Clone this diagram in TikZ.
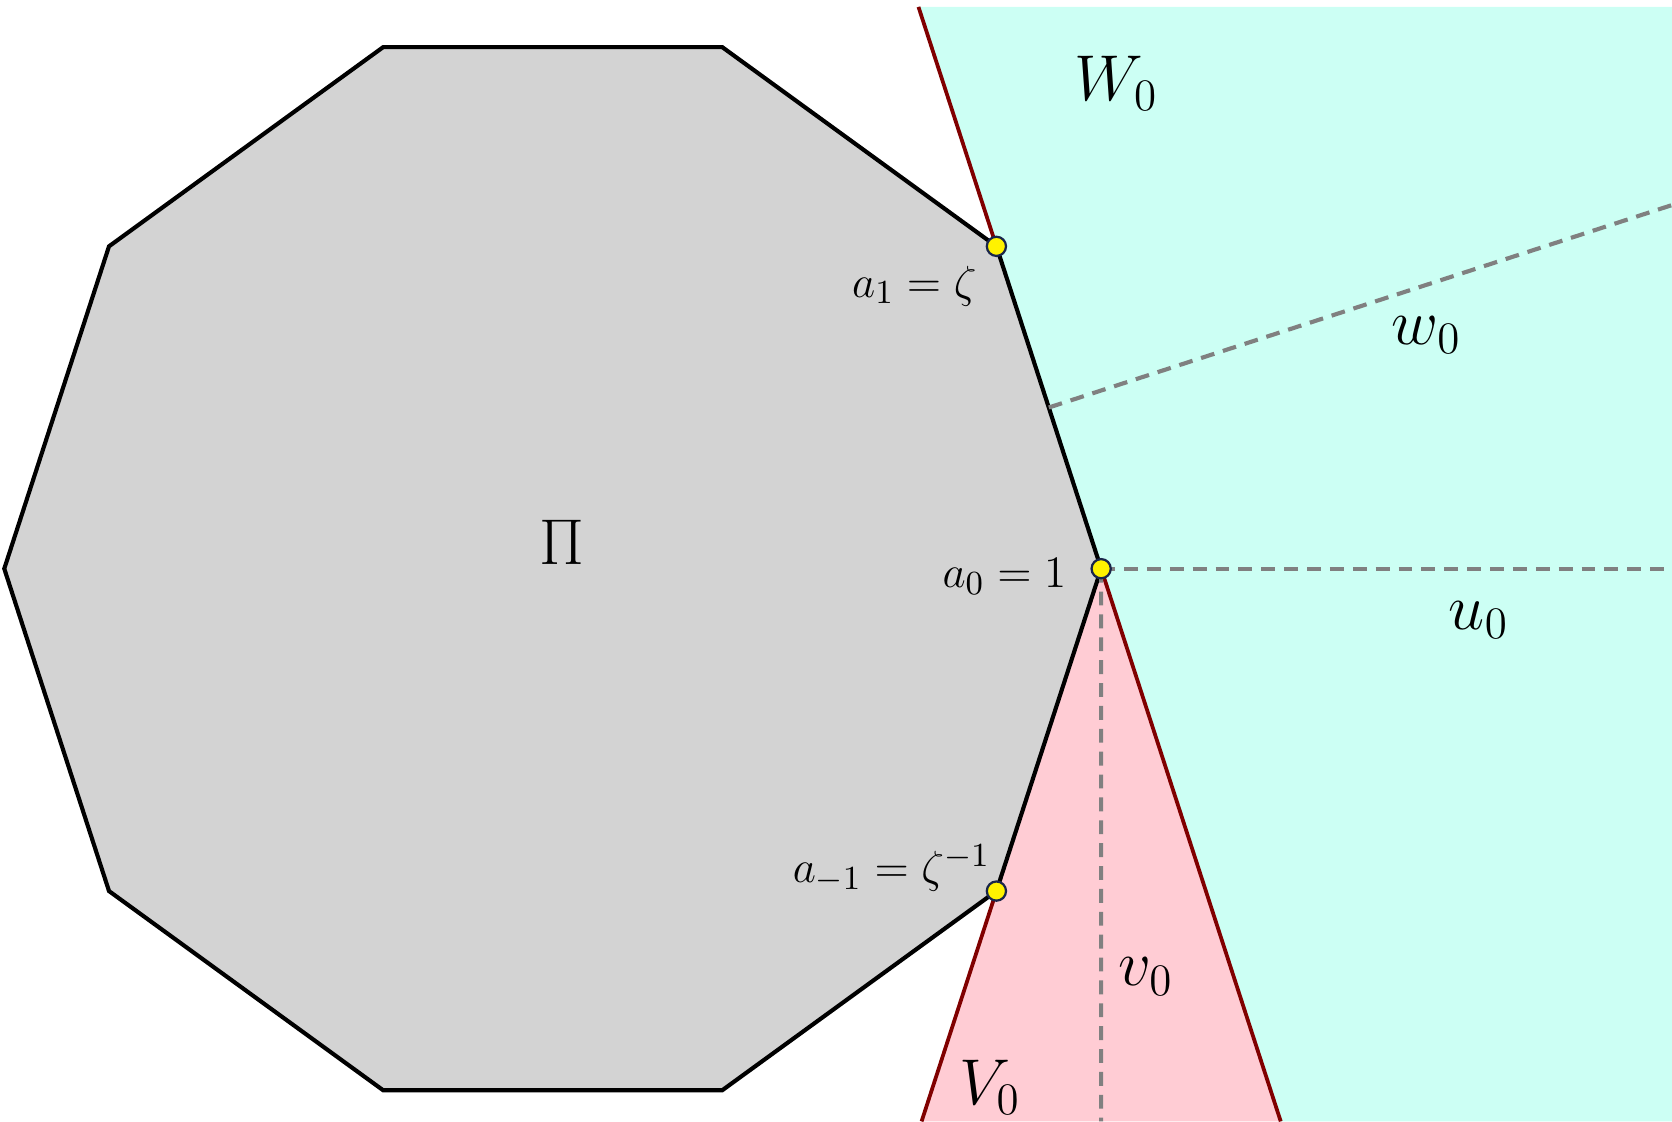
\documentclass[tikz,border=0pt]{standalone}
\usetikzlibrary{positioning, calc}

\definecolor{wedgecyan}{RGB}{204,255,244}
\definecolor{wedgepink}{RGB}{255,204,212}
\definecolor{polygray}{RGB}{211,211,211}
\definecolor{bordred}{RGB}{128,0,0}
\definecolor{dotnavy}{RGB}{26,38,74}

\begin{document}
\begin{tikzpicture}[node distance=10pt,
    polygon/.style={draw=black, line width=1.1pt, fill=polygray, line join=miter},
    border/.style={draw=bordred, line width=1pt},
    axis/.style={draw=black!50, line width=1.1pt, dash pattern=on 3.7pt off 2.4pt},
    point/.style={circle, draw=dotnavy, line width=0.6pt, fill=yellow, inner sep=0pt, minimum size=0.18cm},
    big label/.style={inner sep=0pt, font=\fontsize{18}{20}\selectfont},
    small label/.style={inner sep=0pt, font=\fontsize{13}{15}\selectfont}]
    \useasboundingbox (0,0) rectangle (15.67,10.51);

    \foreach \k in {0,...,9}
        \coordinate (Vertex \k) at ({5.18+5.14*cos(36*\k)}, {5.18+5.14*sin(36*\k)});
    \coordinate (Top End)    at (8.608,10.445);
    \coordinate (Top Right)  at (15.67,10.445);
    \coordinate (Low Right)  at (15.67,0);
    \coordinate (Low End)    at (12.003,0);
    \coordinate (Low Start)  at (8.637,0);
    \coordinate (Low Axis)   at (10.32,0);
    \coordinate (Right Axis) at (15.67,5.18);
    \coordinate (Mid Edge)   at ($(Vertex 0)!0.5!(Vertex 1)$);
    \coordinate (Edge Axis)  at (15.67,8.588);

    \fill[wedgecyan] (Top End) -- (Top Right) -- (Low Right) -- (Low End) -- (Vertex 0) -- cycle;
    \fill[wedgepink] (Vertex 0) -- (Low End) -- (Low Start) -- cycle;

    \path[polygon] (Vertex 0) \foreach \k in {1,...,9} {-- (Vertex \k)} -- cycle;

    \draw[border] (Top End) -- (Vertex 1);
    \draw[border] (Vertex 0) -- (Low End);
    \draw[border] (Low Start) -- (Vertex 9);

    \draw[axis] (Vertex 0) -- (Right Axis);
    \draw[axis] (Vertex 0) -- (Low Axis);
    \draw[axis] (Mid Edge) -- (Edge Axis);

    \node[point] (Point 0) at (Vertex 0) {};
    \node[point] (Point 1) at (Vertex 1) {};
    \node[point] (Point 9) at (Vertex 9) {};

    \node[small label, left=0.22cm of Point 0, yshift=-0.07cm] (Label 0) {$a_0=1$};
    \node[small label, left=0.08cm of Point 1, yshift=-0.37cm] (Label 1) {$a_1=\zeta$};
    \node[small label, left=-0.05cm of Point 9, yshift=0.21cm] (Label 9) {$a_{-1}=\zeta^{-1}$};

    \node[big label] (Label Pi) at (5.27,5.43)  {$\Pi$};
    \node[big label] (Label W)  at (10.46,9.73) {$W_0$};
    \node[big label] (Label w)  at (13.37,7.37) {$w_0$};
    \node[big label] (Label u)  at (13.86,4.70) {$u_0$};
    \node[big label] (Label v)  at (10.74,1.36) {$v_0$};
    \node[big label] (Label V)  at (9.28,0.32)  {$V_0$};
\end{tikzpicture}
\end{document}
